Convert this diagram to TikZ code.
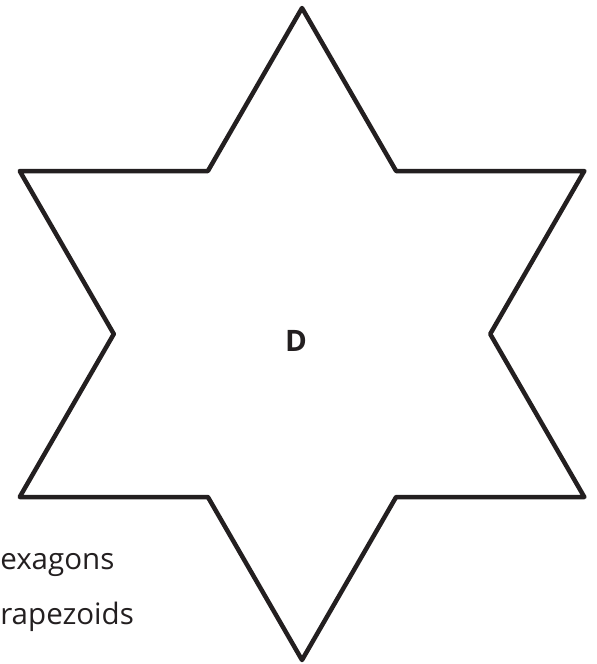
\documentclass[tikz,border=0pt]{standalone}
\usepackage{fontspec}
\setmainfont{Open Sans}
\usetikzlibrary{positioning}
\definecolor{inkdark}{HTML}{231F20}

\begin{document}
\begin{tikzpicture}[
    x=0.025cm, y=-0.025cm,
    starline/.style={inkdark, line width=3.2pt, line join=round},
    sidelabel/.style={text=inkdark, font=\fontsize{21}{24}\selectfont, anchor=base west, inner sep=0pt},
    facelabel/.style={text=inkdark, font=\fontsize{21}{24}\selectfont\bfseries, anchor=base, inner sep=0pt}
]
\useasboundingbox (0,0) rectangle (597,664);
%
\draw[starline] (302,8) -- (396.1,171) -- (584.3,171) -- (490.2,334)
    -- (584.3,497) -- (396.1,497) -- (302,660) -- (207.9,497)
    -- (19.7,497) -- (113.8,334) -- (19.7,171) -- (207.9,171) -- cycle;
\node[facelabel] (face) at (296,351) {D};
%
\node[sidelabel] (hexa) at (0,569) {exagons};
\node[sidelabel] (trap) at (0,624) {rapezoids};
\end{tikzpicture}
\end{document}
